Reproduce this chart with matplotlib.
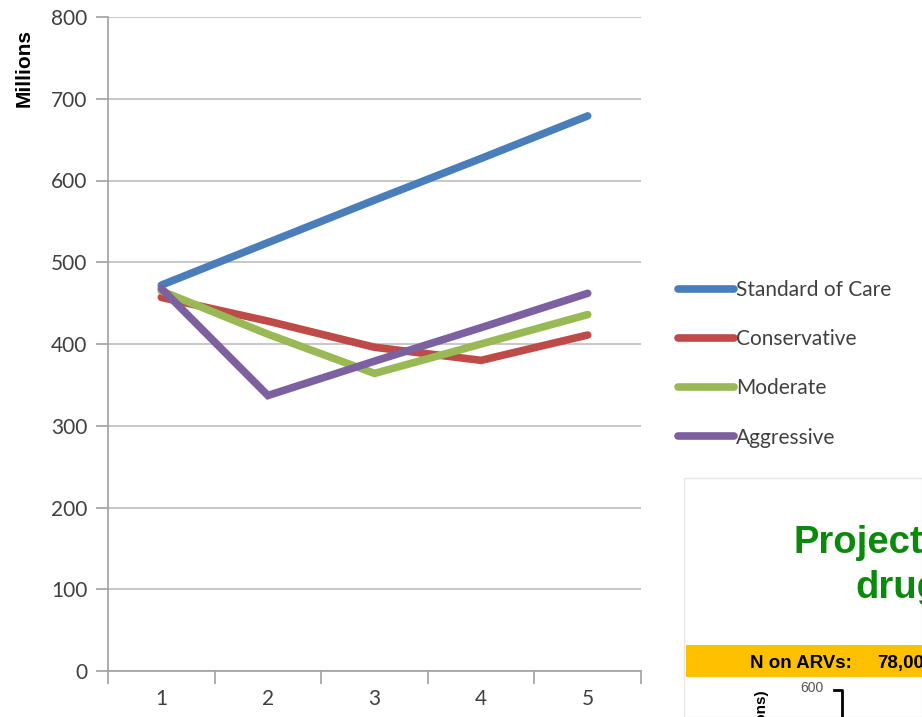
import matplotlib
matplotlib.use("Agg")
import matplotlib.pyplot as plt
from matplotlib.patches import Rectangle
from matplotlib.lines import Line2D

plt.rcParams["font.family"] = ["Lato", "DejaVu Sans"]

# scenario cost projections (millions)
years = [1, 2, 3, 4, 5]
standard_of_care = [472, 524, 576, 627, 679]
conservative = [457, 428, 396, 380, 411]
moderate = [465, 412, 364, 400, 436]
aggressive = [468, 337, 379, 420, 462]

series = [
    ("Standard of Care", standard_of_care, "#4A7EBB"),
    ("Conservative", conservative, "#BE4B48"),
    ("Moderate", moderate, "#98B954"),
    ("Aggressive", aggressive, "#7D60A0"),
]

W, H = 922, 717
fig = plt.figure(figsize=(W / 100, H / 100), dpi=100)
ax = fig.add_axes([108 / W, 1 - 671 / H, (641 - 108) / W, (671 - 17) / H])

for name, vals, color in series:
    ax.plot(years, vals, color=color, lw=5.5, solid_capstyle="round",
            solid_joinstyle="miter", label=name, zorder=3)

ax.set_xlim(0.5, 5.5)
ax.set_ylim(0, 800)
ax.set_yticks(range(0, 801, 100))
ax.yaxis.grid(True, color="#BEBEBE", lw=1.2)
ax.set_axisbelow(True)

# category axis: ticks between categories, labels at centres
ax.set_xticks([0.5, 1.5, 2.5, 3.5, 4.5, 5.5])
ax.set_xticklabels([])
ax.set_xticks(years, minor=True)
ax.set_xticklabels([str(y) for y in years], minor=True)
ax.tick_params(axis="x", which="major", length=9, width=1.2, color="#A0A0A0", direction="out")
ax.tick_params(axis="x", which="minor", length=0, pad=13, labelsize=15, labelcolor="#404040")
ax.tick_params(axis="y", length=9, width=1.2, color="#A0A0A0", labelsize=15,
               labelcolor="#404040", pad=6)

for side in ("top", "right"):
    ax.spines[side].set_visible(False)
for side in ("left", "bottom"):
    ax.spines[side].set_color("#A0A0A0")
    ax.spines[side].set_linewidth(1.2)

fig.text(24 / W, 1 - 68 / H, "Millions", rotation=90, ha="center", va="center",
         fontsize=15, fontweight="bold", color="black",
         family=["Liberation Sans", "DejaVu Sans"])

handles = [Line2D([], [], color=c, lw=5.5, solid_capstyle="round") for _, _, c in series]
fig.legend(handles, [n for n, _, _ in series], loc="upper left",
           bbox_to_anchor=(678 / W, 1 - 280 / H), frameon=False, fontsize=15,
           handlelength=2.7, handletextpad=0.1, labelspacing=1.4,
           borderpad=0, borderaxespad=0, labelcolor="#404040")

# neighbouring slide panel at the lower right
fig.patches.append(Rectangle((684 / W, 0), (W - 684) / W, (H - 478) / H,
                             transform=fig.transFigure, facecolor="white",
                             edgecolor="#E6E6E6", lw=1.0))
slide_font = ["Liberation Sans", "DejaVu Sans"]
fig.text(793 / W, 1 - 553 / H, "Projected", fontsize=27.5, fontweight="bold",
         color="#0A8A0A", ha="left", va="baseline", family=slide_font)
fig.text(855 / W, 1 - 598 / H, "drugs", fontsize=27.5, fontweight="bold",
         color="#0A8A0A", ha="left", va="baseline", family=slide_font)
fig.patches.append(Rectangle((686 / W, 1 - 677 / H), (W - 686) / W, 32 / H,
                             transform=fig.transFigure, facecolor="#FFC000",
                             edgecolor="none"))
fig.text(750 / W, 1 - 668 / H, "N on ARVs:", fontsize=13.5, fontweight="bold",
         color="black", ha="left", va="baseline", family=slide_font)
fig.text(877 / W, 1 - 668 / H, "78,000", fontsize=13.5, fontweight="bold",
         color="black", ha="left", va="baseline", family=slide_font)
fig.text(812 / W, 1 - 688 / H, "600", fontsize=10, color="#555555",
         ha="center", va="center", family=slide_font)
fig.lines.append(Line2D([834 / W, 842 / W, 842 / W], [1 - 690 / H, 1 - 690 / H, 0],
                        transform=fig.transFigure, color="black", lw=2))
fig.text(762 / W, 1 - 690 / H, "Cost (US$ millions)", rotation=90, fontsize=11,
         fontweight="bold", color="black", ha="center", va="top", family=slide_font)

fig.savefig("out.png", dpi=100)
